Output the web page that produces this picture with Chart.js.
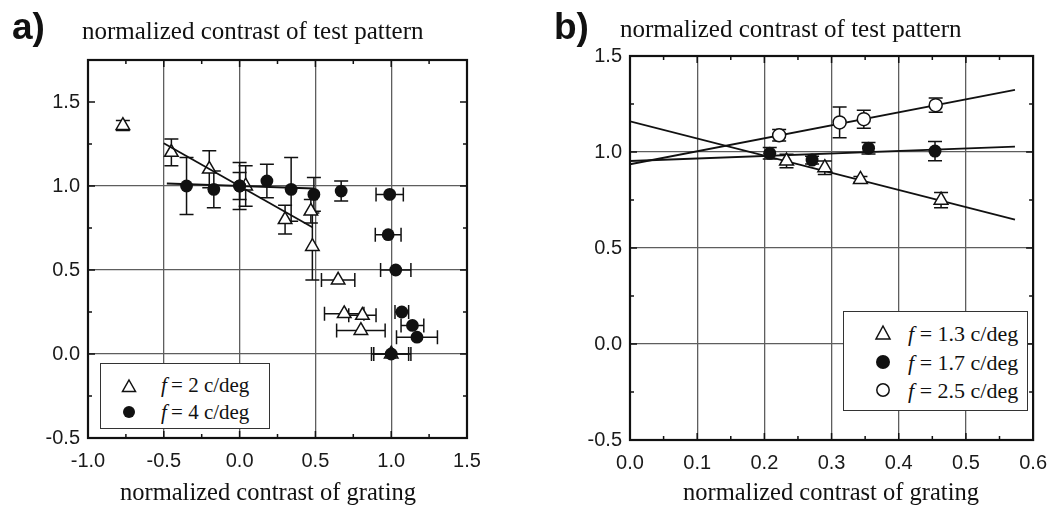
<!DOCTYPE html>
<html><head><meta charset="utf-8">
<script src="https://cdn.jsdelivr.net/npm/chart.js@4"></script>
<style>
body{margin:0;width:1058px;height:509px;overflow:hidden;background:#fff;position:relative;font-family:"Liberation Serif","Times New Roman",serif;color:#111;}
canvas{position:absolute;top:0;}
.t{position:absolute;white-space:nowrap;line-height:1;}
.pl{font-family:"Liberation Sans",Arial,sans-serif;font-weight:bold;font-size:37px;}
.ttl{font-size:25px;}
.xt{font-size:24.5px;transform:translateX(-50%);}
.leg{position:absolute;border:1.5px solid #333;background:#fff;box-sizing:border-box;}
.leg .row{position:absolute;line-height:1;white-space:nowrap;}
.leg svg{position:absolute;}
</style>
</head><body>
<canvas id="ca" width="530" height="509" style="left:0"></canvas>
<canvas id="cb" width="528" height="509" style="left:530px"></canvas>

<div class="t pl" style="left:12px;top:8px">a)</div>
<div class="t ttl" style="left:82px;top:18px">normalized contrast of test pattern</div>
<div class="t xt" style="left:268px;top:480px">normalized contrast of grating</div>

<div class="t pl" style="left:554px;top:8px">b)</div>
<div class="t ttl" style="left:620px;top:16px">normalized contrast of test pattern</div>
<div class="t xt" style="left:831px;top:480px">normalized contrast of grating</div>

<div class="leg" style="left:100px;top:363px;width:170px;height:66px">
  <svg width="16" height="16" style="left:20px;top:14px"><polygon points="8,2 14.5,13.5 1.5,13.5" fill="#fff" stroke="#111" stroke-width="1.5"/></svg>
  <div class="row" style="left:60px;top:11px;font-size:21px"><i>f</i>&thinsp;= 2 c/deg</div>
  <svg width="16" height="16" style="left:20px;top:40px"><circle cx="8" cy="8" r="6" fill="#111"/></svg>
  <div class="row" style="left:60px;top:38px;font-size:21px"><i>f</i>&thinsp;= 4 c/deg</div>
</div>

<div class="leg" style="left:843px;top:311px;width:185px;height:100px">
  <svg width="18" height="18" style="left:30px;top:12px"><polygon points="9,2 16,15 2,15" fill="#fff" stroke="#111" stroke-width="1.5"/></svg>
  <div class="row" style="left:64px;top:11px;font-size:22px"><i>f</i> = 1.3 c/deg</div>
  <svg width="18" height="18" style="left:30px;top:41px"><circle cx="9" cy="9" r="7" fill="#111"/></svg>
  <div class="row" style="left:64px;top:40px;font-size:22px"><i>f</i> = 1.7 c/deg</div>
  <svg width="18" height="18" style="left:30px;top:69px"><circle cx="9" cy="9" r="6.2" fill="#fff" stroke="#111" stroke-width="1.5"/></svg>
  <div class="row" style="left:64px;top:68px;font-size:22px"><i>f</i> = 2.5 c/deg</div>
</div>

<script>
// ---------- Panel a data ----------
const aXTicks = [-1.0, -0.5, 0.0, 0.5, 1.0, 1.5];
const aYTicks = [-0.5, 0.0, 0.5, 1.0, 1.5];
const aXGrid = [-0.5, 0.0, 0.5, 1.0];
const aYGrid = [0.0, 0.5, 1.0];

// f = 2 c/deg (open triangles)
const aTriX  = [-0.77, -0.45, -0.20, 0.04, 0.30, 0.47, 0.48, 0.65, 0.69, 0.81, 0.80, 1.00];
const aTriY  = [ 1.36,  1.20,  1.10, 1.00, 0.80, 0.85, 0.64, 0.44, 0.24, 0.23, 0.14, 0.00];
const aTriYe = [ 0.03,  0.08,  0.11, 0.12, 0.085,0.07, 0.20, 0,    0,    0,    0,    0   ];
const aTriXe = [ 0,     0,     0,    0,    0,    0,    0,    0.11, 0.13, 0.09, 0.16, 0.13];

// f = 4 c/deg (filled circles)
const aCirX  = [-0.35, -0.17, 0.00, 0.00, 0.18, 0.34, 0.49, 0.67, 0.99, 0.98, 1.03, 1.07, 1.14, 1.17, 1.00];
const aCirY  = [ 1.00,  0.98, 1.00, 1.00, 1.03, 0.98, 0.95, 0.97, 0.95, 0.71, 0.50, 0.25, 0.17, 0.10, 0.00];
const aCirYe = [ 0.17,  0.11, 0.14, 0.08, 0.10, 0.19, 0.10, 0.06, 0,    0,    0,    0,    0,    0,    0   ];
const aCirXe = [ 0,     0,    0,    0,    0,    0,    0,    0,    0.09, 0.085,0.10, 0.045,0.075,0.135,0.115];

// fitted lines (end points)
const aFitTriX = [-0.50, 0.48];
const aFitTriY = [ 1.255, 0.755];
const aFitCirX = [-0.48, 0.49];
const aFitCirY = [ 1.015, 0.985];

// ---------- Panel b data ----------
const bXTicks = [0.0, 0.1, 0.2, 0.3, 0.4, 0.5, 0.6];
const bYTicks = [-0.5, 0.0, 0.5, 1.0, 1.5];
const bXGrid = [0.1, 0.2, 0.3, 0.4, 0.5];
const bYGrid = [0.0, 0.5, 1.0];

const bTriX  = [0.233, 0.290, 0.343, 0.463];
const bTriY  = [0.953, 0.918, 0.857, 0.749];
const bTriYe = [0.035, 0.035, 0.015, 0.040];

const bFilX  = [0.208, 0.271, 0.355, 0.454];
const bFilY  = [0.993, 0.958, 1.020, 1.005];
const bFilYe = [0.030, 0.020, 0.030, 0.050];

const bOpX   = [0.222, 0.312, 0.348, 0.455];
const bOpY   = [1.087, 1.154, 1.171, 1.244];
const bOpYe  = [0.030, 0.080, 0.047, 0.037];

const bFitTriX = [0.0, 0.573];
const bFitTriY = [1.160, 0.648];
const bFitFilX = [0.0, 0.573];
const bFitFilY = [0.953, 1.028];
const bFitOpX  = [0.0, 0.573];
const bFitOpY  = [0.936, 1.324];

// ---------- helpers ----------
const pts = (xs, ys, yes, xes) => xs.map((x, i) => ({x, y: ys[i], ye: yes ? yes[i] : 0, xe: xes ? xes[i] : 0}));
const INK = '#111';

const errBars = {
  id: 'errBars',
  beforeDatasetsDraw(chart) {
    const {ctx, scales: {x, y}} = chart;
    ctx.save();
    ctx.strokeStyle = INK; ctx.lineWidth = 1.5;
    chart.data.datasets.forEach(ds => {
      if (!ds.cap) return;
      const c = ds.cap;
      ds.data.forEach(p => {
        const px = x.getPixelForValue(p.x), py = y.getPixelForValue(p.y);
        ctx.beginPath();
        if (p.ye) {
          const t = y.getPixelForValue(p.y + p.ye), b = y.getPixelForValue(p.y - p.ye);
          ctx.moveTo(px, t); ctx.lineTo(px, b);
          ctx.moveTo(px - c, t); ctx.lineTo(px + c, t);
          ctx.moveTo(px - c, b); ctx.lineTo(px + c, b);
        }
        if (p.xe) {
          const l = x.getPixelForValue(p.x - p.xe), r = x.getPixelForValue(p.x + p.xe);
          ctx.moveTo(l, py); ctx.lineTo(r, py);
          ctx.moveTo(l, py - c); ctx.lineTo(l, py + c);
          ctx.moveTo(r, py - c); ctx.lineTo(r, py + c);
        }
        ctx.stroke();
      });
    });
    ctx.restore();
  }
};

const frame = {
  id: 'frame',
  afterDatasetsDraw(chart, args, o) {
    const {ctx, chartArea: a, scales: {x, y}} = chart;
    ctx.save();
    ctx.strokeStyle = INK; ctx.lineWidth = 1.5;
    ctx.beginPath();
    const xs = o.xTicks, ys = o.yTicks;
    const doX = (v, len) => {
      const p = x.getPixelForValue(v);
      ctx.moveTo(p, a.bottom); ctx.lineTo(p, a.bottom - len);
      ctx.moveTo(p, a.top); ctx.lineTo(p, a.top + len);
    };
    const doY = (v, len) => {
      const p = y.getPixelForValue(v);
      ctx.moveTo(a.left, p); ctx.lineTo(a.left + len, p);
      ctx.moveTo(a.right, p); ctx.lineTo(a.right - len, p);
    };
    for (let i = 0; i < xs.length; i++) {
      doX(xs[i], 7);
      if (i < xs.length - 1) doX((xs[i] + xs[i + 1]) / 2, 4);
    }
    for (let i = 0; i < ys.length; i++) {
      doY(ys[i], 7);
      if (i < ys.length - 1) doY((ys[i] + ys[i + 1]) / 2, 4);
    }
    if (o.yExtraMinor) o.yExtraMinor.forEach(v => doY(v, 4));
    ctx.stroke();
    ctx.lineWidth = 2.2;
    ctx.strokeRect(a.left, a.top, a.right - a.left, a.bottom - a.top);
    ctx.restore();
  }
};

function scaleCfg(min, max, ticks, grid, isX, size) {
  return {
    type: 'linear', min, max,
    afterBuildTicks: s => { s.ticks = ticks.map(v => ({value: v})); },
    afterFit: s => { if (isX) s.height = size; else s.width = size; },
    ticks: {
      callback: v => Number(v).toFixed(1),
      font: {family: '"Liberation Sans", Arial, sans-serif', size: 20},
      color: '#1a1a1a', padding: isX ? 11 : 8, maxRotation: 0, autoSkip: false
    },
    grid: {
      color: c => (c.tick && grid.includes(c.tick.value)) ? '#5e5e5e' : 'rgba(0,0,0,0)',
      lineWidth: 1.3, drawTicks: false
    },
    border: {display: false}
  };
}

function lineDs(xs, ys, order) {
  return {data: pts(xs, ys), showLine: true, pointRadius: 0, borderColor: INK, borderWidth: 1.8, order};
}

Chart.defaults.animation = false;

new Chart(document.getElementById('ca'), {
  type: 'scatter',
  data: {datasets: [
    {label: 'f = 2 c/deg', data: pts(aTriX, aTriY, aTriYe, aTriXe), pointStyle: 'triangle', pointRadius: 7.8,
     backgroundColor: '#fff', borderColor: INK, borderWidth: 1.5, cap: 7, order: 3},
    lineDs(aFitTriX, aFitTriY, 2),
    lineDs(aFitCirX, aFitCirY, 2),
    {label: 'f = 4 c/deg', data: pts(aCirX, aCirY, aCirYe, aCirXe), pointStyle: 'circle', pointRadius: 6.4,
     backgroundColor: INK, borderColor: INK, borderWidth: 0, cap: 7, order: 1}
  ]},
  options: {
    responsive: false, devicePixelRatio: 1,
    layout: {padding: {left: 0, top: 60, right: 63, bottom: 0}},
    plugins: {legend: {display: false}, tooltip: {enabled: false},
      frame: {xTicks: aXTicks, yTicks: aYTicks, yExtraMinor: [1.75]}},
    scales: {
      x: scaleCfg(-1.0, 1.5, aXTicks, aXGrid, true, 71),
      y: scaleCfg(-0.5, 1.75, aYTicks, aYGrid, false, 88)
    }
  },
  plugins: [errBars, frame]
});

new Chart(document.getElementById('cb'), {
  type: 'scatter',
  data: {datasets: [
    lineDs(bFitTriX, bFitTriY, 4),
    lineDs(bFitFilX, bFitFilY, 4),
    lineDs(bFitOpX, bFitOpY, 4),
    {label: 'f = 1.3 c/deg', data: pts(bTriX, bTriY, bTriYe), pointStyle: 'triangle', pointRadius: 8,
     backgroundColor: '#fff', borderColor: INK, borderWidth: 1.5, cap: 7, order: 3},
    {label: 'f = 1.7 c/deg', data: pts(bFilX, bFilY, bFilYe), pointStyle: 'circle', pointRadius: 6.5,
     backgroundColor: INK, borderColor: INK, borderWidth: 0, cap: 7, order: 2},
    {label: 'f = 2.5 c/deg', data: pts(bOpX, bOpY, bOpYe), pointStyle: 'circle', pointRadius: 6.5,
     backgroundColor: '#fff', borderColor: INK, borderWidth: 1.5, cap: 7, order: 1}
  ]},
  options: {
    responsive: false, devicePixelRatio: 1,
    layout: {padding: {left: 0, top: 56, right: 15, bottom: 0}},
    plugins: {legend: {display: false}, tooltip: {enabled: false},
      frame: {xTicks: bXTicks, yTicks: bYTicks}},
    scales: {
      x: scaleCfg(0.0, 0.6, bXTicks, bXGrid, true, 69),
      y: scaleCfg(-0.5, 1.5, bYTicks, bYGrid, false, 100)
    }
  },
  plugins: [errBars, frame]
});
</script>
</body></html>
